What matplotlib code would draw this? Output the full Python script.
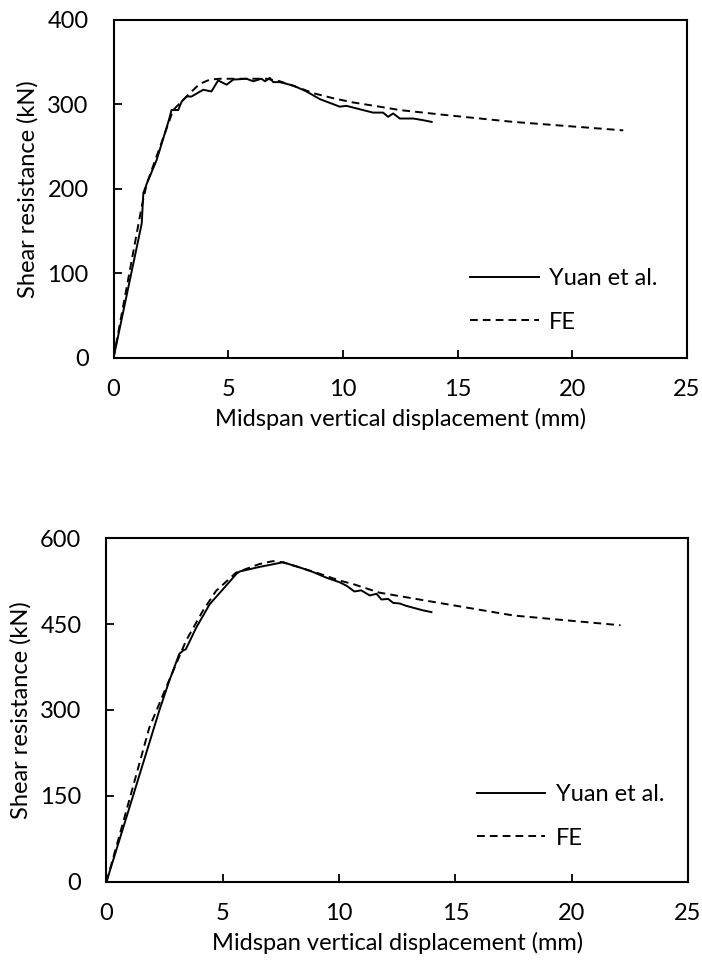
import matplotlib
matplotlib.use('Agg')
from matplotlib import pyplot as plt

plt.rcParams['font.family'] = ['Lato', 'DejaVu Sans']
plt.rcParams['font.size'] = 17

# top chart
top_yuan_d = [0, 1.23, 1.30, 1.45, 1.88, 2.39, 2.53, 2.82, 2.97, 3.19, 3.40, 3.91, 4.27, 4.56,
              4.93, 5.22, 5.80, 6.09, 6.45, 6.60, 6.81, 6.96, 7.25, 7.83, 8.41, 8.99, 9.86,
              10.15, 11.31, 11.75, 11.97, 12.19, 12.48, 13.07, 13.50, 13.87]
top_yuan_v = [0, 159, 195, 206, 234, 279, 293, 293, 303, 309, 309, 317, 315, 328,
              323, 329, 330, 327, 330, 327, 331, 326, 326, 322, 315, 306, 297,
              298, 290, 290, 285, 289, 283, 283, 281, 279]
top_fe_d = [0, 1.23, 1.45, 2.39, 2.60, 2.89, 3.33, 3.76, 4.20, 4.64, 6.67, 7.25, 8.12, 8.70,
            9.57, 10.44, 11.60, 12.48, 14.52, 17.43, 22.22]
top_fe_v = [0, 179, 206, 277, 293, 301, 313, 324, 329, 330, 330, 327, 319, 313,
            307, 302, 297, 293, 287, 279, 269]

# bottom chart
bot_yuan_d = [0, 1.12, 2.27, 2.70, 3.13, 3.30, 3.41, 3.86, 4.44, 5.01, 5.59, 5.73, 6.59, 7.59,
              8.31, 8.88, 9.46, 10.03, 10.32, 10.66, 10.95, 11.32, 11.61, 11.82, 12.11, 12.33,
              12.61, 12.88, 13.61, 13.97]
bot_yuan_v = [0, 147, 299, 351, 398, 404, 406, 444, 485, 511, 538, 542, 550, 558,
              549, 541, 531, 523, 517, 507, 509, 500, 503, 493, 494, 487,
              486, 482, 474, 471]
bot_fe_d = [0, 0.69, 1.84, 2.56, 3.42, 4.14, 4.71, 5.57, 6.58, 7.15, 7.59, 8.31, 9.17, 10.03,
            10.6, 11.73, 14.6, 17.5, 22.1]
bot_fe_v = [0, 100, 269, 339, 421, 473, 508, 540, 555, 560, 558, 549, 538, 526,
            520, 505, 485, 465, 448]

x_ticks = [0, 5, 10, 15, 20, 25]
top_y_ticks = [0, 100, 200, 300, 400]
bot_y_ticks = [0, 150, 300, 450, 600]

fig = plt.figure(figsize=(7.02, 9.66), dpi=100)
ax1 = fig.add_axes([0.1617, 0.6294, 0.8170, 0.3504])
ax2 = fig.add_axes([0.1517, 0.0873, 0.8283, 0.3555])


def style(ax, yd, yv, fd, fv, yticks, leg_xy):
    ax.plot(yd, yv, color='black', lw=1.4, label='Yuan et al.')
    ax.plot(fd, fv, color='black', lw=1.4, dashes=(4, 2.6), label='FE')
    ax.set_xlim(0, 25)
    ax.set_ylim(yticks[0], yticks[-1])
    ax.set_xticks(x_ticks)
    ax.set_yticks(yticks)
    for s in ax.spines.values():
        s.set_linewidth(1.5)
    ax.tick_params(axis='x', direction='in', length=6, width=1.3, pad=15)
    ax.tick_params(axis='y', direction='in', length=6, width=1.3, pad=18)
    ax.set_xlabel('Midspan vertical displacement (mm)', labelpad=6)
    ax.set_ylabel('Shear resistance (kN)', labelpad=6)
    ax.legend(loc='center left', bbox_to_anchor=leg_xy, frameon=False,
              borderpad=0, borderaxespad=0, handlelength=2.9, handletextpad=0.45,
              labelspacing=0.95)


style(ax1, top_yuan_d, top_yuan_v, top_fe_d, top_fe_v, top_y_ticks, (0.622, 0.170))
style(ax2, bot_yuan_d, bot_yuan_v, bot_fe_d, bot_fe_v, bot_y_ticks, (0.637, 0.190))

fig.savefig('out.png', dpi=100)
